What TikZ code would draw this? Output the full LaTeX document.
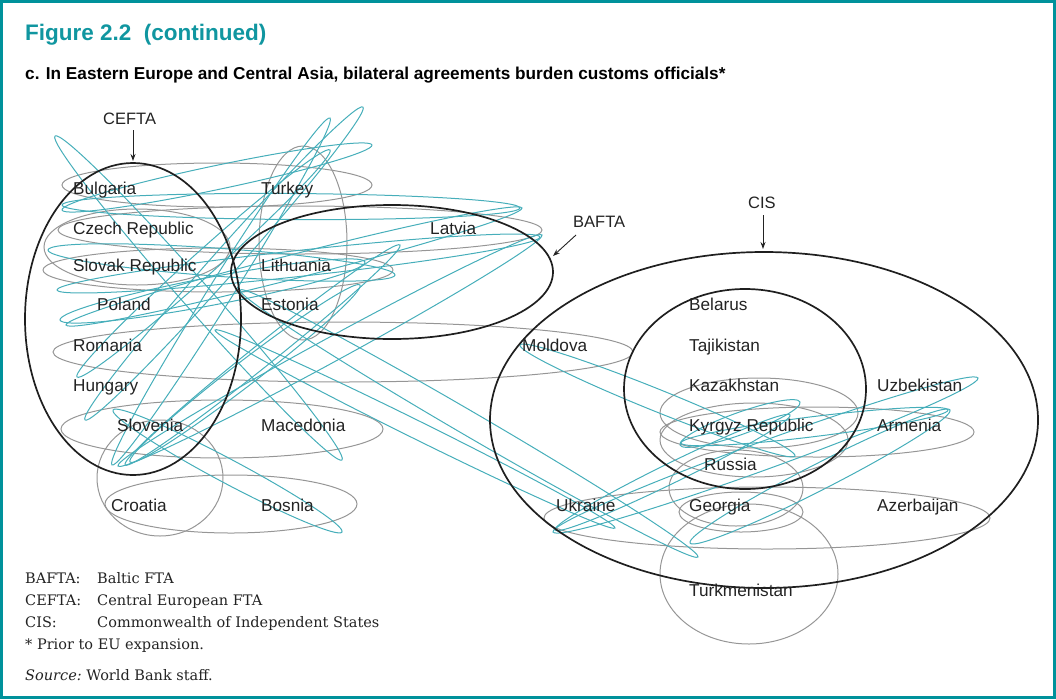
\documentclass[tikz,border=0pt]{standalone}
\usepackage{fontspec}
\setmainfont{Liberation Sans}
\newfontfamily\legendfont{DejaVu Serif}
\usetikzlibrary{arrows.meta}
\definecolor{frameteal}{RGB}{0,146,155}
\definecolor{titleteal}{RGB}{16,150,160}
\definecolor{linkteal}{RGB}{70,174,186}
\definecolor{linkgray}{RGB}{150,150,150}
\definecolor{inkgray}{RGB}{35,35,35}
\newcommand\tlink[5]{%
  \pgfmathsetmacro\lkang{atan2(#4-#2,#3-#1)}%
  \pgfmathsetmacro\lklen{veclen(#3-#1,#4-#2)/2}%
  \begin{scope}[shift={({(#1+#3)/2},{(#2+#4)/2})},rotate=-\lkang]
    \draw[tealring] (0,0) ellipse [x radius=\lklen pt, y radius=#5 pt];
  \end{scope}}
\begin{document}
\begin{tikzpicture}[x=1pt,y=-1pt,
  country/.style={anchor=base west,inner sep=0pt,text=inkgray,font=\fontsize{17.2}{19}\selectfont},
  blocname/.style={anchor=base west,inner sep=0pt,text=inkgray,font=\fontsize{16.5}{18}\selectfont},
  legend/.style={anchor=base west,inner sep=0pt,text=inkgray,font=\legendfont\fontsize{14.5}{16}\selectfont},
  grayring/.style={draw=linkgray,line width=1pt},
  tealring/.style={draw=linkteal,line width=1pt},
  bloc/.style={draw=black!88,line width=1.7pt},
  pointer/.style={draw=inkgray,line width=0.9pt,-{Stealth[length=7pt,width=5pt]}}]
\useasboundingbox (0,0) rectangle (1056,699);
\draw[frameteal,line width=3pt] (1.5,1.5) rectangle (1054.5,697.5);

% titles
\node[anchor=base west,inner sep=0pt,text=titleteal,font=\fontsize{22.5}{26}\selectfont\bfseries] (title) at (25,40) {Figure 2.2\ \ (continued)};
\node[anchor=base west,inner sep=0pt,text=black,font=\fontsize{17.2}{19}\selectfont\bfseries] (subtitle) at (25,79) {c. In Eastern Europe and Central Asia, bilateral agreements burden customs officials*};

% gray bilateral rings
\foreach \cx/\cy/\rx/\ry in {217/185/155/22, 137/247/93/38, 300/230/242/24, 218/270/175/22,
  303/243/44/97, 343/352/290/30, 222/429/161/29, 160/478/63/58, 231/504/126/29,
  759/413/99/35, 817/432/157/25, 754/440/94/37, 736/488/67/38, 741/512/62/20,
  767/518/223/31, 749/574/89/70}
  \draw[grayring] (\cx,\cy) ellipse [x radius=\rx pt, y radius=\ry pt];

% teal bilateral rings
\foreach \xa/\ya/\xb/\yb/\w in {55/136/342/460/14, 113/410/342/532/12, 85/420/363/107/13,
  62/210/372/145/12, 118/466/542/235/12, 66/325/522/208/12, 77/377/330/150/12,
  112/465/330/118/12, 125/465/400/245/11, 130/462/360/285/12, 48/250/395/275/14,
  57/290/540/237/13, 62/205/520/208/13, 60/320/365/262/14,
  240/290/698/557/12, 215/330/615/528/9, 520/345/795/456/11,
  553/532/978/378/14, 690/543/950/410/13, 681/443/948/410/10, 680/445/800/402/11,
  555/530/790/415/10}
  \tlink{\xa}{\ya}{\xb}{\yb}{\w};

% trade blocs
\draw[bloc] (133,319) ellipse [x radius=108pt, y radius=156pt];
\draw[bloc] (392,272) ellipse [x radius=161pt, y radius=67pt];
\draw[bloc] (764,420) ellipse [x radius=274pt, y radius=168pt];
\draw[bloc] (745,389) ellipse [x radius=121pt, y radius=100pt];

% bloc names and pointers
\node[blocname] (cefta) at (103,124) {CEFTA};
\node[blocname] (bafta) at (573,227) {BAFTA};
\node[blocname] (cis) at (748,208) {CIS};
\coordinate (ceftatip) at (133,161);
\coordinate (baftatip) at (553,256);
\coordinate (cistip) at (763,249);
\draw[pointer] (133,130) -- (ceftatip);
\draw[pointer] (576,235) -- (baftatip);
\draw[pointer] (763,215) -- (cistip);

% countries
\node[country] (bulgaria) at (73,194) {Bulgaria};
\node[country] (turkey) at (261,194) {Turkey};
\node[country] (czech) at (73,234) {Czech Republic};
\node[country] (latvia) at (430,234) {Latvia};
\node[country] (slovak) at (73,271) {Slovak Republic};
\node[country] (lithuania) at (261,271) {Lithuania};
\node[country] (poland) at (97,310) {Poland};
\node[country] (estonia) at (261,310) {Estonia};
\node[country] (romania) at (73,351) {Romania};
\node[country] (hungary) at (73,391) {Hungary};
\node[country] (slovenia) at (117,431) {Slovenia};
\node[country] (macedonia) at (261,431) {Macedonia};
\node[country] (croatia) at (111,511) {Croatia};
\node[country] (bosnia) at (261,511) {Bosnia};
\node[country] (moldova) at (522,351) {Moldova};
\node[country] (belarus) at (689,310) {Belarus};
\node[country] (tajikistan) at (689,351) {Tajikistan};
\node[country] (kazakhstan) at (689,391) {Kazakhstan};
\node[country] (uzbekistan) at (877,391) {Uzbekistan};
\node[country] (kyrgyz) at (689,431) {Kyrgyz Republic};
\node[country] (armenia) at (877,431) {Armenia};
\node[country] (russia) at (704,470) {Russia};
\node[country] (ukraine) at (556,511) {Ukraine};
\node[country] (georgia) at (689,511) {Georgia};
\node[country] (azerbaijan) at (877,511) {Azerbaijan};
\node[country] (turkmenistan) at (689,596) {Turkmenistan};

% legend
\node[legend] (l1a) at (25,583) {BAFTA:};
\node[legend] (l1b) at (97,583) {Baltic FTA};
\node[legend] (l2a) at (25,605) {CEFTA:};
\node[legend] (l2b) at (97,605) {Central European FTA};
\node[legend] (l3a) at (25,627) {CIS:};
\node[legend] (l3b) at (97,627) {Commonwealth of Independent States};
\node[legend] (l4) at (25,649) {* Prior to EU expansion.};
\node[legend] (src) at (25,680) {\itshape Source:\upshape\ World Bank staff.};
\end{tikzpicture}
\end{document}
